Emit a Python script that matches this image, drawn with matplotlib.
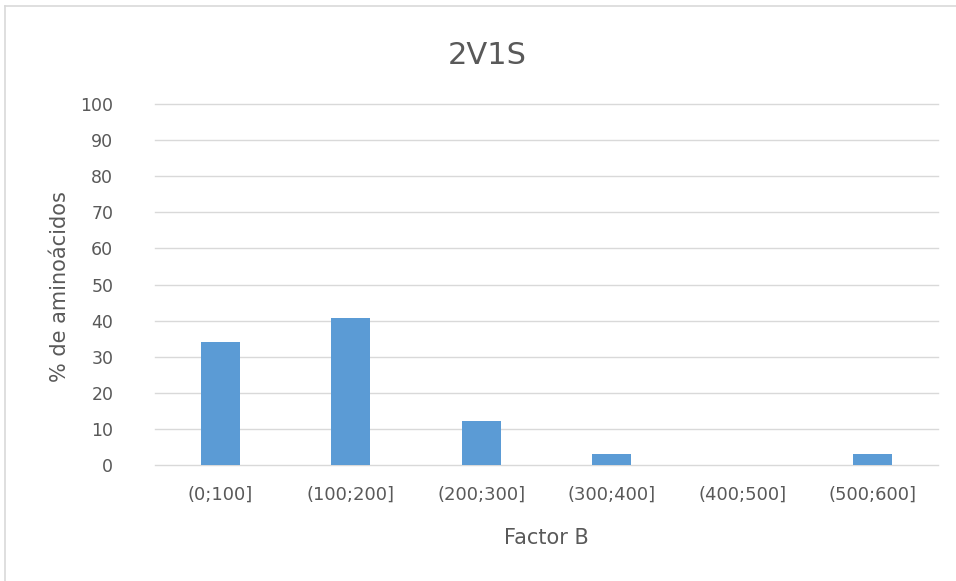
import matplotlib
matplotlib.use("Agg")
import matplotlib.pyplot as plt
from matplotlib.lines import Line2D

categories = ["(0;100]", "(100;200]", "(200;300]", "(300;400]", "(400;500]", "(500;600]"]
values = [34.0, 40.7, 12.3, 3.0, 0.0, 3.0]
yticks = [0, 10, 20, 30, 40, 50, 60, 70, 80, 90, 100]
title = "2V1S"
xlabel = "Factor B"
ylabel = "% de aminoácidos"

plt.rcParams['font.family'] = ['DejaVu Sans']
text_color = "#595959"

W, H = 956, 581
fig = plt.figure(figsize=(W / 100, H / 100), dpi=100)
fig.patch.set_facecolor("white")

ax_left, ax_right, ax_top, ax_bottom = 155, 938, 104, 465
ax = fig.add_axes([ax_left / W, 1 - ax_bottom / H, (ax_right - ax_left) / W, (ax_bottom - ax_top) / H])
x = list(range(len(categories)))
ax.bar(x, values, width=0.3, color="#5B9BD5", zorder=3)
ax.set_xlim(-0.5, len(categories) - 0.5)
ax.set_ylim(0, 100)
ax.set_yticks(yticks)
ax.set_yticklabels([str(t) for t in yticks])
ax.set_xticks(x)
ax.set_xticklabels(categories)
ax.tick_params(axis="both", length=0, colors=text_color)
ax.tick_params(axis="x", pad=15, labelsize=13)
ax.tick_params(axis="y", pad=30, labelsize=12.5)
ax.grid(axis="y", color="#D9D9D9", linewidth=1.0, zorder=0)
for gl in ax.get_ygridlines():
    gl.set_clip_on(False)
for s in ax.spines.values():
    s.set_visible(False)
ax.set_xlabel(xlabel, fontsize=15, color=text_color, va="center")
ax.set_ylabel(ylabel, fontsize=15, color=text_color, va="center")
axw, axh = ax_right - ax_left, ax_bottom - ax_top
ax.xaxis.set_label_coords(0.5, (ax_bottom - 538) / axh)
ax.yaxis.set_label_coords((60 - ax_left) / axw, (ax_bottom - 287) / axh)

fig.text(487 / W, 1 - 55 / H, title, ha="center", va="center", fontsize=22, color=text_color)

# outer chart frame (left and top edges visible)
fig.add_artist(Line2D([5 / W, 5 / W], [0, 1 - 6 / H], transform=fig.transFigure, color="#D9D9D9", linewidth=1.2))
fig.add_artist(Line2D([5 / W, 1], [1 - 6 / H, 1 - 6 / H], transform=fig.transFigure, color="#D9D9D9", linewidth=1.2))

fig.savefig("out.png", dpi=100)
